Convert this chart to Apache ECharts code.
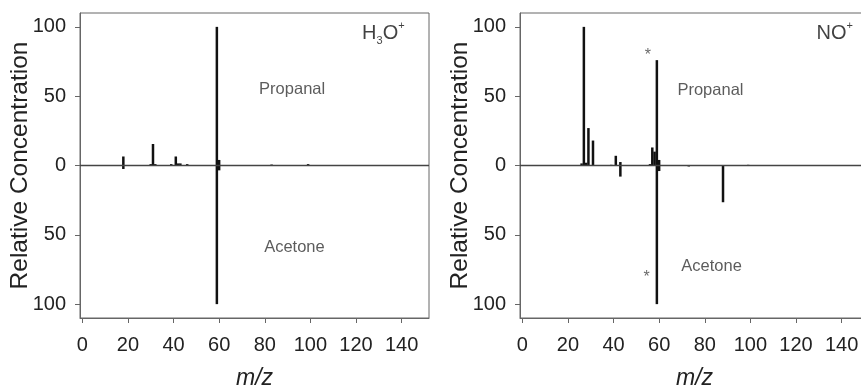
<!DOCTYPE html>
<html>
<head>
<meta charset="utf-8">
<script src="https://cdn.jsdelivr.net/npm/echarts@6/dist/echarts.min.js"></script>
<style>
  html, body {margin: 0; padding: 0; background: #fff;}
  #chart {width: 861px; height: 387px;}
</style>
</head>
<body>
<div id="chart"></div>
<script>
// m/z ticks and relative concentration ticks
const xTicks = [0, 20, 40, 60, 80, 100, 120, 140];
const yTicks = [-100, -50, 0, 50, 100];

// H3O+ panel: propanal up, acetone down
const h3oPropanal = [[18, 6.5], [30, 1], [31, 15.5], [32, 1], [39, 1], [41, 6.5], [42, 1.5], [43, 1.5],
  [46, 1], [59, 100], [60, 4], [83, 0.7], [99, 1]];
const h3oAcetone = [[18, -2.5], [59, -100], [60, -3.5]];

// NO+ panel
const noPropanal = [[26, 1.5], [27, 100], [28, 2], [29, 27], [31, 18], [39, 0.5], [41, 7], [43, 2.5],
  [56, 1], [57, 13], [58, 10], [59, 76], [60, 4], [99, 0.5]];
const noAcetone = [[43, -8], [59, -100], [60, -4], [73, -0.7], [88, -26.5]];

// text labels [m/z, value, text]
const h3oNotes = [[92, 55, 'Propanal'], [93, -59, 'Acetone']];
const noNotes = [[82.5, 54, 'Propanal'], [83, -73, 'Acetone'], [55, 79, '*'], [54.5, -81, '*']];
const ionNames = ['{a|H}{s|3}{a|O}{p|+}', '{a|NO}{p|+}'];
const ionPos = [[132, 95], [137, 95]];

const chart = echarts.init(document.getElementById('chart'));
const font = 'Liberation Sans, Arial, sans-serif';
const lineColor = '#666';

const grids = [0, 1].map(i => ({
  left: i === 0 ? 80 : 520, top: 13, width: 349, height: 305,
  outerBoundsMode: 'none', containLabel: false,
  show: true, borderColor: lineColor, borderWidth: 1
}));

const xAxes = [0, 1].map(i => ({
  type: 'value', gridIndex: i, min: -1, max: 152,
  name: 'm/z', nameLocation: 'middle', nameGap: 49, nameMoveOverlap: false,
  nameTextStyle: {fontFamily: font, fontSize: 23, fontStyle: 'italic', color: '#222'},
  axisLine: {show: true, onZero: false, lineStyle: {color: lineColor}},
  axisTick: {show: true, length: 5, customValues: xTicks, lineStyle: {color: lineColor}},
  axisLabel: {customValues: xTicks, margin: 17, fontFamily: font, fontSize: 20, color: '#222'},
  splitLine: {show: false}
}));

const yAxes = [0, 1].map(i => ({
  type: 'value', gridIndex: i, min: -110, max: 110,
  name: 'Relative Concentration', nameLocation: 'middle', nameGap: 47, nameMoveOverlap: false,
  nameTextStyle: {fontFamily: font, fontSize: 24.5, color: '#222'},
  axisLine: {show: true, onZero: false, lineStyle: {color: lineColor}},
  axisTick: {show: true, length: 5, customValues: yTicks, lineStyle: {color: lineColor}},
  axisLabel: {customValues: yTicks, margin: 14, fontFamily: font, fontSize: 20, color: '#222',
    formatter: v => String(Math.abs(v))},
  splitLine: {show: false}
}));

function bars(data, i) {
  return {
    type: 'bar', xAxisIndex: i, yAxisIndex: i, data: data,
    barWidth: 2.5, barGap: '-100%', itemStyle: {color: '#111'}, silent: true
  };
}

function notes(data, i, ion) {
  const items = data.map(d => ({
    value: [d[0], d[1]],
    label: {formatter: d[2], fontSize: d[2] === '*' ? 16 : 16.5, color: d[2] === '*' ? '#444' : '#333'}
  }));
  items.push({
    value: ionPos[i],
    label: {formatter: ion, rich: {
      a: {fontFamily: font, fontSize: 20, color: '#111', lineHeight: 26, verticalAlign: 'middle'},
      s: {fontFamily: font, fontSize: 11, color: '#111', lineHeight: 26, verticalAlign: 'bottom'},
      p: {fontFamily: font, fontSize: 11, color: '#111', lineHeight: 26, verticalAlign: 'top'}
    }}
  });
  return {
    type: 'scatter', xAxisIndex: i, yAxisIndex: i, symbolSize: 0, silent: true,
    label: {show: true, position: 'inside', fontFamily: font},
    data: items
  };
}

function zeroLine(i) {
  return {
    type: 'line', xAxisIndex: i, yAxisIndex: i, data: [], silent: true,
    markLine: {symbol: 'none', silent: true, label: {show: false},
      lineStyle: {color: '#444', width: 1.4, type: 'solid'}, data: [{yAxis: 0}]}
  };
}

chart.setOption({
  animation: false,
  grid: grids,
  xAxis: xAxes,
  yAxis: yAxes,
  series: [
    zeroLine(0), zeroLine(1),
    bars(h3oPropanal, 0), bars(h3oAcetone, 0),
    bars(noPropanal, 1), bars(noAcetone, 1),
    notes(h3oNotes, 0, ionNames[0]), notes(noNotes, 1, ionNames[1])
  ]
});
</script>
</body>
</html>
